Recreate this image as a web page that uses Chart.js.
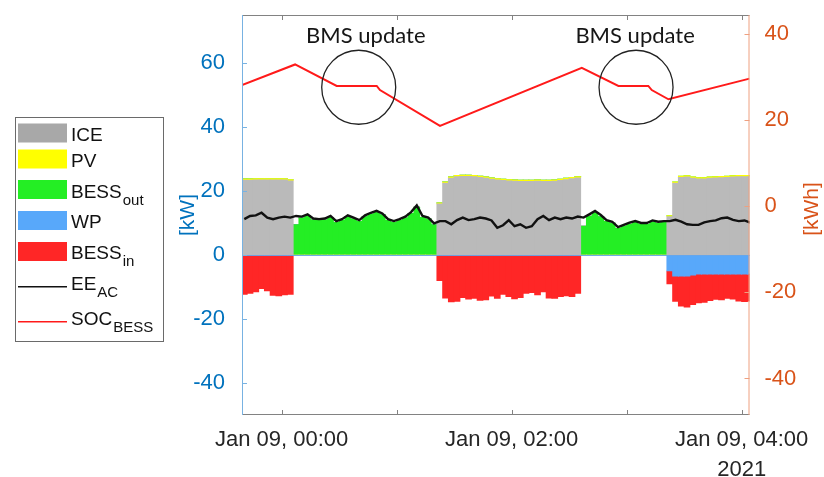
<!DOCTYPE html>
<html>
<head>
<meta charset="utf-8">
<title>ICE / BESS power and SOC</title>
<script src="https://cdn.jsdelivr.net/npm/chart.js@4.4.1/dist/chart.umd.min.js"></script>
<style>
  html, body { margin: 0; padding: 0; background: #fff; }
</style>
</head>
<body>
<canvas id="powerChart" width="824" height="477"></canvas>
<script>
// time axis in minutes after Jan 09 00:00 (bar centres, 3 min each)
var minutes = [
  -19.5, -16.5, -13.5, -10.5, -7.5, -4.5, -1.5, 1.5, 4.5, 7.5,
  10.5, 13.5, 16.5, 19.5, 22.5, 25.5, 28.5, 31.5, 34.5, 37.5,
  40.5, 43.5, 46.5, 49.5, 52.5, 55.5, 58.5, 61.5, 64.5, 67.5,
  70.5, 73.5, 76.5, 79.5, 82.5, 85.5, 88.5, 91.5, 94.5, 97.5,
  100.5, 103.5, 106.5, 109.5, 112.5, 115.5, 118.5, 121.5, 124.5, 127.5,
  130.5, 133.5, 136.5, 139.5, 142.5, 145.5, 148.5, 151.5, 154.5, 157.5,
  160.5, 163.5, 166.5, 169.5, 172.5, 175.5, 178.5, 181.5, 184.5, 187.5,
  190.5, 193.5, 196.5, 199.5, 202.5, 205.5, 208.5, 211.5, 214.5, 217.5,
  220.5, 223.5, 226.5, 229.5, 232.5, 235.5, 238.5, 241.5, 244.5
];

// kW
var ice = [
  23.4, 23.4, 23.5, 23.5, 23.5, 23.5, 23.5, 23.5, 23.2, 0,
  0, 0, 0, 0, 0, 0, 0, 0, 0, 0,
  0, 0, 0, 0, 0, 0, 0, 0, 0, 0,
  0, 0, 0, 0, 16, 22.5, 24.0, 24.5, 24.6, 24.6,
  24.5, 24.3, 24.0, 23.7, 23.5, 23.3, 23.2, 23.1, 23.0, 23.0,
  23.0, 23.1, 23.0, 23.0, 23.1, 23.3, 23.6, 23.9, 24.1, 0,
  0, 0, 0, 0, 0, 0, 0, 0, 0, 0,
  0, 0, 0, 0, 12, 22.5, 24.3, 24.4, 24.0, 23.8,
  23.8, 24.0, 24.1, 24.2, 24.3, 24.4, 24.5, 24.5, 24.5
];
var pv = [
  0.4, 0.4, 0.4, 0.4, 0.4, 0.4, 0.4, 0.4, 0.4, 0,
  0, 0, 0, 0, 0, 0, 0, 0, 0, 0,
  0, 0, 0, 0, 0, 0, 0, 0, 0, 0,
  0, 0, 0, 0, 0.3, 0.4, 0.4, 0.4, 0.4, 0.4,
  0.4, 0.4, 0.4, 0.4, 0.4, 0.4, 0.4, 0.4, 0.4, 0.4,
  0.4, 0.4, 0.4, 0.4, 0.4, 0.4, 0.4, 0.4, 0.4, 0,
  0, 0, 0, 0, 0, 0, 0, 0, 0, 0,
  0, 0, 0, 0, 0.3, 0.4, 0.4, 0.4, 0.4, 0.4,
  0.4, 0.4, 0.4, 0.4, 0.4, 0.4, 0.4, 0.4, 0.4
];
var bessOut = [
  0, 0, 0, 0, 0, 0, 0, 0, 0, 9.5,
  11.6, 12.3, 11.0, 10.8, 11.0, 11.8, 10.2, 10.8, 12.0, 11.3,
  10.5, 12.0, 12.8, 13.4, 12.6, 10.8, 10.2, 10.8, 11.6, 13.0,
  15.0, 11.8, 11.3, 9.5, 0, 0, 0, 0, 0, 0,
  0, 0, 0, 0, 0, 0, 0, 0, 0, 0,
  0, 0, 0, 0, 0, 0, 0, 0, 0, 9.0,
  12.2, 13.3, 12.0, 10.5, 10.0, 8.3, 9.0, 9.7, 10.2, 9.6,
  9.6, 10.4, 10.0, 10.2, 0, 0, 0, 0, 0, 0,
  0, 0, 0, 0, 0, 0, 0, 0, 0
];
var wp = [
  0, 0, 0, 0, 0, 0, 0, 0, 0, 0,
  0, 0, 0, 0, 0, 0, 0, 0, 0, 0,
  0, 0, 0, 0, 0, 0, 0, 0, 0, 0,
  0, 0, 0, 0, 0, 0, 0, 0, 0, 0,
  0, 0, 0, 0, 0, 0, 0, 0, 0, 0,
  0, 0, 0, 0, 0, 0, 0, 0, 0, 0,
  0, 0, 0, 0, 0, 0, 0, 0, 0, 0,
  0, 0, 0, 0, -5, -6.6, -6.6, -6.6, -6.3, -6.0,
  -6.0, -6.0, -6.0, -6.0, -6.0, -6.0, -6.0, -6.0, -6.0
];
var bessIn = [
  -12.3, -12.0, -11.5, -10.5, -11.2, -12.6, -12.8, -12.5, -12.3, 0,
  0, 0, 0, 0, 0, 0, 0, 0, 0, 0,
  0, 0, 0, 0, 0, 0, 0, 0, 0, 0,
  0, 0, 0, 0, -8, -13.5, -14.7, -14.5, -13.3, -13.8,
  -13.6, -14.2, -14.0, -12.9, -13.6, -12.3, -13.0, -13.7, -13.3, -12.0,
  -11.8, -12.5, -11.5, -13.5, -13.6, -13.0, -12.8, -13.0, -12.0, 0,
  0, 0, 0, 0, 0, 0, 0, 0, 0, 0,
  0, 0, 0, 0, -4, -7.9, -9.4, -9.7, -9.2, -9.0,
  -8.8, -8.3, -7.9, -8.0, -7.6, -7.8, -8.4, -8.6, -8.4
];
var eeAc = [
  11.2, 12.2, 12.4, 13.2, 11.7, 11.2, 11.7, 12.0, 11.7, 12.2,
  12.0, 12.7, 11.4, 11.2, 11.4, 12.2, 10.6, 11.2, 12.4, 11.7,
  10.9, 12.4, 13.2, 13.8, 13.0, 11.2, 10.6, 11.2, 12.0, 13.4,
  15.5, 12.2, 11.7, 9.9, 10.6, 10.6, 9.6, 10.9, 11.7, 10.9,
  11.2, 11.7, 11.4, 10.8, 8.5, 9.3, 10.9, 9.0, 9.6, 8.5,
  9.0, 11.2, 12.2, 10.9, 11.7, 11.2, 11.7, 11.4, 12.0, 11.7,
  12.7, 13.75, 12.5, 10.9, 10.4, 8.7, 9.4, 10.1, 10.6, 10.0,
  10.0, 10.8, 10.4, 10.6, 10.6, 11.0, 10.4, 9.6, 9.4, 9.4,
  10.2, 10.6, 10.8, 11.5, 11.7, 11.0, 10.6, 10.8, 10.1
];

// kWh, state of charge of the battery
var socMinutes = [-20.7, 7.0, 28.7, 49.6, 51.3, 82.6, 156.6, 175.7, 191.3, 193.1, 201.8, 244.1];
var socValues  = [28.2, 33.0, 28.0, 28.0, 27.05, 18.7, 32.2, 28.0, 28.0, 27.05, 24.9, 29.7];

// axis ticks
var hourTicks = [0, 60, 120, 180, 240];
var tickLabels = ['Jan 09, 00:00', '', 'Jan 09, 02:00', '', 'Jan 09, 04:00'];
var yearLabel = '2021';

// legend names (main text + subscript)
var legendMain = ['ICE', 'PV', 'BESS', 'WP', 'BESS', 'EE', 'SOC'];
var legendSub  = ['', '', 'out', '', 'in', 'AC', 'BESS'];

// "BMS update" notes
var noteText = 'BMS update';
var noteMinutes = [40.2, 184.9];
var noteSoc = 27.7;
var labelMinutes = [43.9, 184.4];
var labelSoc = 37.9;

var FONT = '"Liberation Sans", Arial, Helvetica, sans-serif';
var BLUE = '#0072BD';
var ORANGE = '#D95319';

function pts(xs, ys) {
  return xs.map(function (m, i) { return {x: m, y: ys[i]}; });
}

function barSet(label, values, color) {
  return {
    type: 'bar', label: label, data: pts(minutes, values),
    backgroundColor: color, borderWidth: 0, barThickness: 6,
    stack: 'power', yAxisID: 'y', order: 1
  };
}

// keep the plot box where the reference has it
function fixVertical(width) {
  return function (s) {
    s.width = width;
    s.paddingTop = 0;
    s.paddingBottom = 0;
  };
}

var framePlugin = {
  id: 'frame',
  afterDatasetsDraw: function (chart) {
    var ctx = chart.ctx, a = chart.chartArea;
    var xs = chart.scales.x, ys = chart.scales.y, ys2 = chart.scales.y2;
    ctx.save();
    ctx.lineWidth = 1;

    // zero line of the kW axis
    var z = Math.round(ys.getPixelForValue(0)) + 0.5;
    ctx.strokeStyle = 'rgba(100,165,235,0.9)';
    ctx.beginPath(); ctx.moveTo(a.left, z); ctx.lineTo(a.right, z); ctx.stroke();

    // box
    ctx.strokeStyle = '#828282';
    ctx.beginPath();
    ctx.moveTo(a.left, a.top + 0.5); ctx.lineTo(a.right, a.top + 0.5);
    ctx.moveTo(a.left, a.bottom - 0.5); ctx.lineTo(a.right, a.bottom - 0.5);
    xs.ticks.forEach(function (t) {
      var px = Math.round(xs.getPixelForValue(t.value)) + 0.5;
      ctx.moveTo(px, a.bottom); ctx.lineTo(px, a.bottom - 5);
      ctx.moveTo(px, a.top); ctx.lineTo(px, a.top + 5);
    });
    ctx.stroke();

    ctx.strokeStyle = 'rgb(120,178,226)';
    ctx.beginPath();
    ctx.moveTo(a.left + 0.5, a.top); ctx.lineTo(a.left + 0.5, a.bottom);
    ys.ticks.forEach(function (t) {
      var py = Math.round(ys.getPixelForValue(t.value)) + 0.5;
      ctx.moveTo(a.left, py); ctx.lineTo(a.left + 5, py);
    });
    ctx.stroke();

    ctx.strokeStyle = 'rgb(238,160,128)';
    ctx.beginPath();
    ctx.moveTo(a.right - 0.5, a.top); ctx.lineTo(a.right - 0.5, a.bottom);
    ys2.ticks.forEach(function (t) {
      var py = Math.round(ys2.getPixelForValue(t.value)) + 0.5;
      ctx.moveTo(a.right, py); ctx.lineTo(a.right - 5, py);
    });
    ctx.stroke();
    ctx.restore();
  },
  afterDraw: function (chart) {
    var ctx = chart.ctx;
    var xs = chart.scales.x, ys2 = chart.scales.y2;
    ctx.save();

    // BMS update notes
    ctx.strokeStyle = '#222';
    ctx.lineWidth = 1.3;
    ctx.fillStyle = '#161616';
    ctx.font = '22px Lato, "Open Sans", sans-serif';
    ctx.textAlign = 'center';
    ctx.textBaseline = 'alphabetic';
    noteMinutes.forEach(function (m, i) {
      ctx.beginPath();
      ctx.arc(xs.getPixelForValue(m), ys2.getPixelForValue(noteSoc), 37, 0, Math.PI * 2);
      ctx.stroke();
      ctx.fillText(noteText, xs.getPixelForValue(labelMinutes[i]), ys2.getPixelForValue(labelSoc));
    });

    // right axis title, reads bottom to top
    ctx.save();
    ctx.translate(812, 209);
    ctx.rotate(-Math.PI / 2);
    ctx.fillStyle = ORANGE;
    ctx.font = '21px ' + FONT;
    ctx.textBaseline = 'middle';
    ctx.fillText('[kWh]', 0, 0);
    ctx.restore();

    // legend
    var order = [2, 3, 4, 5, 6, 0, 1];
    var rows = [133, 159, 189.5, 220.5, 251.5, 286.7, 321.7];
    var bases = [140.7, 167.3, 197.7, 228.3, 259.3, 290, 325];
    ctx.fillStyle = '#fff';
    ctx.fillRect(15, 117, 148, 224);
    ctx.strokeStyle = '#6a6a6a';
    ctx.lineWidth = 1;
    ctx.strokeRect(15.5, 117.5, 148, 224);
    ctx.textAlign = 'left';
    legendMain.forEach(function (name, i) {
      var ds = chart.data.datasets[order[i]];
      if (ds.type === 'line') {
        ctx.strokeStyle = ds.borderColor;
        ctx.lineWidth = 1.5;
        ctx.beginPath(); ctx.moveTo(18, rows[i]); ctx.lineTo(67, rows[i]); ctx.stroke();
      } else {
        ctx.fillStyle = i === 0 ? 'rgb(168,168,168)' : ds.backgroundColor;
        ctx.fillRect(18, rows[i] - 9.5, 49, 19);
      }
      ctx.fillStyle = '#111';
      ctx.font = '19px ' + FONT;
      ctx.fillText(name, 71, bases[i]);
      if (legendSub[i]) {
        var w = ctx.measureText(name).width;
        ctx.font = '15px ' + FONT;
        ctx.fillText(legendSub[i], 71 + w + 1, bases[i] + 7);
      }
    });
    ctx.restore();
  }
};

var ctx = document.getElementById('powerChart');
new Chart(ctx, {
  type: 'bar',
  data: {
    datasets: [
      {type: 'line', label: 'EE_AC', data: pts(minutes, eeAc), borderColor: '#111', borderWidth: 2.4,
       pointRadius: 0, tension: 0, fill: false, yAxisID: 'y', stack: 'ee', order: 0},
      {type: 'line', label: 'SOC_BESS', data: pts(socMinutes, socValues), borderColor: '#ff1a1a', borderWidth: 2,
       pointRadius: 0, tension: 0, fill: false, yAxisID: 'y2', order: 0},
      barSet('ICE', ice, 'rgb(186,186,186)'),
      barSet('PV', pv, 'rgb(255,255,0)'),
      barSet('BESS_out', bessOut, 'rgb(36,238,36)'),
      barSet('WP', wp, 'rgb(88,168,250)'),
      barSet('BESS_in', bessIn, 'rgb(255,38,38)')
    ]
  },
  options: {
    responsive: false,
    animation: false,
    events: [],
    layout: {padding: {left: 175, right: 0, top: 15, bottom: 0}},
    plugins: {legend: {display: false}, tooltip: {enabled: false}},
    scales: {
      x: {
        type: 'linear', min: -20.7, max: 244.1, offset: false,
        grid: {display: false}, border: {display: false},
        ticks: {
          stepSize: 60, includeBounds: false, autoSkip: false, maxRotation: 0, minRotation: 0,
          padding: 2, color: '#262626', font: {family: FONT, size: 22, lineHeight: 1.35},
          callback: function (value) {
            var i = hourTicks.indexOf(value);
            if (i < 0) return '';
            return i === hourTicks.length - 1 ? [tickLabels[i], yearLabel] : tickLabels[i];
          }
        },
        afterFit: function (s) { s.height = 62; s.paddingLeft = 0; s.paddingRight = 0; }
      },
      y: {
        position: 'left', stacked: true, min: -50, max: 75,
        grid: {display: false}, border: {display: false},
        ticks: {stepSize: 20, includeBounds: false, padding: 9, color: BLUE, font: {family: FONT, size: 22}},
        title: {display: true, text: '[kW]', color: BLUE, font: {family: FONT, size: 21}, padding: {top: 1, bottom: 0}},
        afterFit: fixVertical(67)
      },
      y2: {
        position: 'right', min: -48.5, max: 44.5,
        grid: {display: false}, border: {display: false},
        ticks: {stepSize: 20, includeBounds: false, padding: 7, color: ORANGE, font: {family: FONT, size: 22}},
        afterFit: fixVertical(74.5)
      }
    }
  },
  plugins: [framePlugin]
});
</script>
</body>
</html>
